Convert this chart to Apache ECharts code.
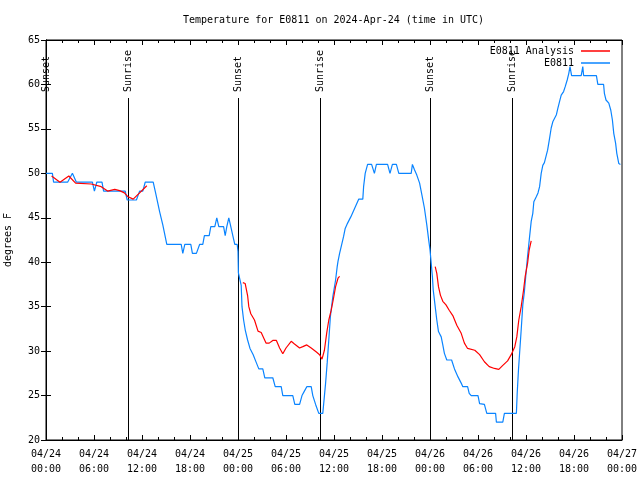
<!DOCTYPE html>
<html>
<head>
<meta charset="utf-8">
<script src="https://cdn.jsdelivr.net/npm/echarts@6/dist/echarts.min.js"></script>
<style>html,body{margin:0;padding:0;background:#fff}#c{width:640px;height:480px}</style>
</head>
<body>
<div id="c"></div>
<script>
// ---- data (hours since 2024-04-24 00:00 UTC, degrees F) ----
const obsHours = [0,0.8,0.95,2.7,3.3,3.8,5.8,6.05,6.35,7.0,7.2,9.9,10.15,11.3,11.7,12.1,12.4,13.4,13.7,14.2,14.6,15.1,16.9,17.1,17.35,18.1,18.3,18.8,19.2,19.6,19.8,20.4,20.6,21.1,21.35,21.6,22.2,22.4,22.6,22.85,23.1,23.35,23.6,23.9,24.0,24.05,24.2,24.4,24.5,24.7,24.9,25.2,25.5,25.9,26.2,26.6,27.1,27.35,28.35,28.65,29.4,29.6,30.85,31.1,31.7,32.0,32.3,32.6,33.15,33.35,33.7,34.1,34.6,34.95,35.15,35.35,35.55,35.85,36.2,36.4,36.5,36.7,36.9,37.2,37.4,37.7,38.1,38.6,39.1,39.6,39.7,39.9,40.2,40.7,41.05,41.3,42.7,43.0,43.3,43.8,44.1,45.65,45.8,46.06,46.35,46.7,46.98,47.3,47.6,47.85,48.0,48.15,48.3,48.4,48.65,48.85,49.06,49.4,49.6,49.8,50.1,50.7,51.06,51.5,51.9,52.1,52.7,52.9,53.15,54.0,54.2,54.8,55.1,56.2,56.3,57.1,57.3,58.8,58.9,59.06,59.2,59.4,59.6,59.8,60.0,60.2,60.44,60.65,60.85,60.98,61.3,61.5,61.7,61.9,62.1,62.3,62.5,62.7,62.94,63.15,63.35,63.55,63.8,63.98,64.2,64.4,64.7,64.9,65.15,65.35,65.5,65.7,66.9,67.1,67.2,68.8,68.98,69.7,69.8,70.0,70.35,70.6,70.8,70.97,71.2,71.35,71.6,71.8];
const obsTemps = [50,50,49,49,50,49,49,48,49,49,48,48,47,47,48,48,49,49,47.8,45.7,44.2,42,42,41,42,42,41,41,42,42,43,43,44,44,45,44,44,43,44,45,44,43,42,42,41.2,38.8,38.75,37.4,35,33.5,32.4,31.25,30.3,29.6,28.9,28,28,27,27,26,26,25,25,24,24,25,25.5,26,26,25,24,23,23,26.4,28.7,31.25,33.9,36.1,38.0,39.5,40.1,41.0,41.75,42.9,43.8,44.4,45.1,46.1,47.1,47.1,48.5,50,51,51,50,51,51,50,51,51,50,50,51,50.4,49.8,48.9,47.6,46.1,44.2,42.4,41.4,39.9,38.4,36.9,35.0,33.5,32.2,31.6,30.7,29.75,29,29,28,27.1,26.4,26,26,25.25,25,25,24.1,24,23,23,22,22,23,23,25.25,27.9,29.75,32.4,35.2,36.7,38.75,40.7,42.8,44.6,45.5,46.8,47.4,47.8,48.5,50.0,50.9,51.2,51.9,52.6,53.9,55.1,55.8,56,56.6,57.3,58.1,58.8,59.2,59.75,60.5,61.25,62,61,61,62,61,61,60,60,59,58.25,57.9,57.1,56.0,54.5,53.4,52.25,51.1,51.0];

// analysis runs (null separates runs)
const anaHours = [0.7,1.75,2.85,3.7,5.65,6.9,7.7,8.6,9.2,9.8,10.2,10.9,11.7,12.6,null,
  24.6,24.9,25.2,25.35,25.6,25.85,26.06,26.5,26.9,27.3,27.5,27.9,28.35,28.8,29.2,29.6,30.0,30.65,31.06,31.7,32.1,32.6,33.15,33.8,34.2,34.5,34.8,35.1,35.35,35.65,35.9,36.2,36.5,36.7,null,
  48.65,48.85,49.06,49.3,49.6,50.0,50.4,50.85,51.35,51.9,52.3,52.7,53.6,54.2,54.8,55.4,56.06,56.6,57.1,57.7,58.15,58.6,58.85,59.1,59.4,59.7,59.9,60.2,60.4,60.65];
const anaTemps = [49.7,49.0,49.7,48.9,48.8,48.5,48.0,48.2,48.05,47.8,47.4,47.1,47.8,48.6,null,
  37.7,37.6,36.25,35.0,34.2,34.1,33.5,32.25,32.1,31.3,30.9,30.9,31.2,31.2,30.35,29.7,30.35,31.1,30.8,30.35,30.5,30.7,30.35,29.9,29.6,29.1,30.1,32.1,33.5,34.6,35.75,37.25,38.2,38.4,null,
  39.5,38.75,37.25,36.3,35.6,35.2,34.6,34.0,32.9,32.0,30.9,30.3,30.1,29.6,28.8,28.25,28.05,27.95,28.4,28.9,29.6,30.5,31.6,33.5,35.0,36.9,38.4,39.9,41.4,42.4];

const eventHours = [0, 10.3, 23.94, 34.22, 47.94, 58.22];
const eventNames = ['Sunset','Sunrise','Sunset','Sunrise','Sunset','Sunrise'];

const xTickLabels = ['04/24\n00:00','04/24\n06:00','04/24\n12:00','04/24\n18:00','04/25\n00:00','04/25\n06:00','04/25\n12:00','04/25\n18:00','04/26\n00:00','04/26\n06:00','04/26\n12:00','04/26\n18:00','04/27\n00:00'];
const yTicks = [20,25,30,35,40,45,50,55,60,65];

const titleText = 'Temperature for E0811 on 2024-Apr-24 (time in UTC)';
const seriesNames = ['E0811 Analysis','E0811'];

// ---- build ----
const FONT = '"DejaVu Sans Mono", "Liberation Mono", monospace';
const obsData = obsHours.map((h,i)=>[h, obsTemps[i]]);
const anaData = anaHours.map((h,i)=> h===null ? [null, null] : [h, anaTemps[i]]);
const evData = eventHours.map((h,i)=>[h, i]);

const chart = echarts.init(document.getElementById('c'), null, {renderer:'canvas'});
const axisCommon = {
  type:'value',
  axisLine:{show:true, lineStyle:{color:'#000', width:1}},
  axisTick:{show:true, inside:true, length:5, lineStyle:{color:'#000'}},
  splitLine:{show:false}
};
chart.setOption({
  animation:false,
  backgroundColor:'#fff',
  textStyle:{fontFamily:FONT},
  title:{
    text:titleText, left:183, top:15, padding:0,
    textStyle:{fontFamily:FONT, fontSize:10, fontWeight:'normal', color:'#000'}
  },
  legend:{
    data:seriesNames, orient:'vertical', right:30, top:45, align:'right',
    icon:'rect', itemWidth:29, itemHeight:1.5, itemGap:0, padding:0,
    textStyle:{fontFamily:FONT, fontSize:10, color:'#000', lineHeight:12, padding:[0,2,0,0]}
  },
  grid:{left:46, right:18, top:40, bottom:40, show:true, borderColor:'#000', borderWidth:1,
    containLabel:false, outerBoundsMode:'none'},
  xAxis:[
    Object.assign({}, axisCommon, {
      min:0, max:72, interval:6, position:'bottom',
      minorTick:{show:true, splitNumber:3, length:3, lineStyle:{color:'#000'}},
      axisLabel:{margin:7, fontFamily:FONT, fontSize:10, color:'#000', lineHeight:15,
        formatter:(v)=> xTickLabels[Math.round(v/6)] || ''}
    }),
    Object.assign({}, axisCommon, {
      min:0, max:72, interval:6, position:'top',
      minorTick:{show:true, splitNumber:3, length:3, lineStyle:{color:'#000'}},
      axisLabel:{show:false}
    })
  ],
  yAxis:[
    Object.assign({}, axisCommon, {
      min:yTicks[0], max:yTicks[yTicks.length-1], interval:5, position:'left',
      name:'degrees F', nameLocation:'middle', nameRotate:90, nameGap:33,
      nameTextStyle:{fontFamily:FONT, fontSize:10, color:'#000'},
      axisLabel:{margin:6, fontFamily:FONT, fontSize:10, color:'#000'}
    }),
    Object.assign({}, axisCommon, {
      min:yTicks[0], max:yTicks[yTicks.length-1], interval:5, position:'right',
      axisLabel:{show:false}
    })
  ],
  series:[
    {
      type:'custom', name:'events', xAxisIndex:0, yAxisIndex:0, clip:false, z:1,
      data:evData, silent:true,
      renderItem:function(params, api){
        const cs = params.coordSys;
        const x = Math.round(api.coord([api.value(0), 20])[0]) + 0.5;
        const yBottom = cs.y + cs.height;
        const yLineTop = cs.y + 58;
        const yTextStart = cs.y + 52;
        return {type:'group', children:[
          {type:'line', shape:{x1:x, y1:yBottom, x2:x, y2:yLineTop}, style:{stroke:'#000', lineWidth:1}},
          {type:'text', x:x, y:yTextStart, rotation:Math.PI/2,
            style:{text:eventNames[api.value(1)], x:0, y:0, align:'left', verticalAlign:'middle',
              font:'10px ' + FONT, fill:'#000'}}
        ]};
      }
    },
    {
      type:'line', name:seriesNames[0], data:anaData, showSymbol:false, connectNulls:false, z:3,
      lineStyle:{color:'#ff0000', width:1.2}, itemStyle:{color:'#ff0000'}
    },
    {
      type:'line', name:seriesNames[1], data:obsData, showSymbol:false, z:2,
      lineStyle:{color:'#0a84ff', width:1.2}, itemStyle:{color:'#0a84ff'}
    }
  ]
});
</script>
</body>
</html>
